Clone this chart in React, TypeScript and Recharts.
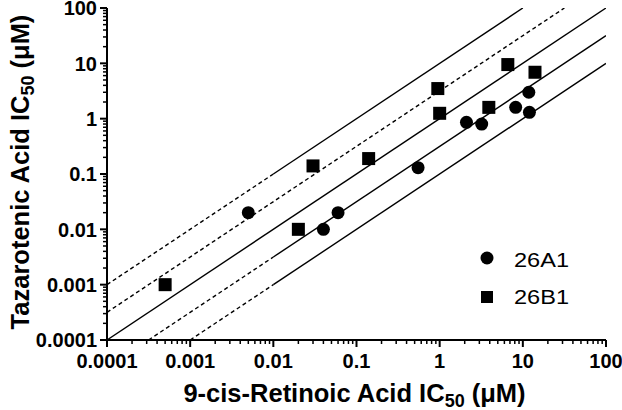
import React from 'react';
import { ScatterChart, Scatter, XAxis, YAxis, Legend } from 'recharts';

// axis ticks (log decades)
const majorTicks = [0.0001, 0.001, 0.01, 0.1, 1, 10, 100];
const tickLabels = ['0.0001', '0.001', '0.01', '0.1', '1', '10', '100'];
const minorMultipliers = [2, 3, 4, 5, 6, 7, 8, 9];

// series 26A1 (circles)
const a1X = [0.005, 0.04, 0.06, 0.55, 2.1, 3.2, 8.2, 11.8, 12];
const a1Y = [0.02, 0.01, 0.02, 0.13, 0.86, 0.8, 1.6, 3.0, 1.3];
// series 26B1 (squares)
const b1X = [0.0005, 0.02, 0.03, 0.14, 0.95, 1.0, 3.9, 6.6, 14];
const b1Y = [0.001, 0.01, 0.14, 0.19, 3.5, 1.25, 1.6, 9.5, 6.9];

// guide lines y = ratio * x ; dashed for x below dashUntil
const lineRatios = [10, 3.162, 1, 0.3162, 0.1];
const lineDashUntil = [0.01, 100, 0.0001, 0.01, 0.01];

const seriesNames = ['26A1', '26B1'];

const DOMAIN: [number, number] = [0.0001, 100];
const FONT = '"Liberation Sans", Arial, Helvetica, sans-serif';

const a1Data = a1X.map((x, i) => ({ x, y: a1Y[i] }));
const b1Data = b1X.map((x, i) => ({ x, y: b1Y[i] }));

const allTicks: number[] = [];
majorTicks.forEach((t, i) => {
  allTicks.push(t);
  if (i < majorTicks.length - 1) minorMultipliers.forEach((m) => allTicks.push(+(t * m).toPrecision(6)));
});

type Seg = { data: { x: number; y: number }[]; dashed: boolean };
const segments: Seg[] = [];
lineRatios.forEach((r, i) => {
  const x0 = Math.max(DOMAIN[0], DOMAIN[0] / r);
  const x1 = Math.min(DOMAIN[1], DOMAIN[1] / r);
  const xm = Math.max(x0, Math.min(lineDashUntil[i], x1));
  if (xm > x0 * 1.0001) segments.push({ data: [{ x: x0, y: x0 * r }, { x: xm, y: xm * r }], dashed: true });
  if (x1 > xm * 1.0001) segments.push({ data: [{ x: xm, y: xm * r }, { x: x1, y: x1 * r }], dashed: false });
});

const majorIndex = (v: number) => majorTicks.findIndex((t) => Math.abs(t - v) / t < 1e-6);

const XTick = (props: any) => {
  const { x, y, payload } = props;
  const idx = majorIndex(payload.value);
  const major = idx >= 0;
  return (
    <g>
      <line x1={x} x2={x} y1={y} y2={y + (major ? 7 : 4)} stroke="#000" strokeWidth={major ? 2 : 1.5} />
      {major && (
        <text x={x} y={y + 28} textAnchor="middle" fontFamily={FONT} fontWeight="bold" fontSize={20} fill="#000">
          {tickLabels[idx]}
        </text>
      )}
    </g>
  );
};

const YTick = (props: any) => {
  const { x, y, payload } = props;
  const idx = majorIndex(payload.value);
  const major = idx >= 0;
  return (
    <g>
      <line x1={x - (major ? 7 : 4)} x2={x} y1={y} y2={y} stroke="#000" strokeWidth={major ? 2 : 1.5} />
      {major && (
        <text x={x - 10} y={y} dy="0.36em" textAnchor="end" fontFamily={FONT} fontWeight="bold" fontSize={20} fill="#000">
          {tickLabels[idx]}
        </text>
      )}
    </g>
  );
};

const XTitle = (props: any) => {
  const { viewBox } = props;
  const cx = viewBox.x + viewBox.width / 2 - 2;
  const y = viewBox.y + 62;
  return (
    <text x={cx} y={y} textAnchor="middle" fontFamily={FONT} fontWeight="bold" fontSize={25.5} fill="#000">
      <tspan>9-cis-Retinoic Acid IC</tspan>
      <tspan fontSize={18} dy={5}>50</tspan>
      <tspan dy={-5}> (μM)</tspan>
    </text>
  );
};

const YTitle = (props: any) => {
  const { viewBox } = props;
  const x = viewBox.x + 29;
  const cy = viewBox.y + viewBox.height / 2 - 2;
  return (
    <text x={x} y={cy} transform={`rotate(-90 ${x} ${cy})`} textAnchor="middle" fontFamily={FONT} fontWeight="bold" fontSize={25.5} fill="#000">
      <tspan>Tazarotenic Acid IC</tspan>
      <tspan fontSize={18} dy={5}>50</tspan>
      <tspan dy={-5}> (μM)</tspan>
    </text>
  );
};

const Circle = (props: any) => <circle cx={props.cx} cy={props.cy} r={6.5} fill="#000" />;
const Square = (props: any) => <rect x={props.cx - 6.5} y={props.cy - 6.5} width={13} height={13} fill="#000" />;
const NoShape = () => <g />;

const LegendContent = () => (
  <svg width={120} height={70} style={{ display: 'block' }}>
    <circle cx={17} cy={13} r={6.5} fill="#000" />
    <text x={44} y={22} fontFamily={FONT} fontSize={20} fill="#000" textLength={55} lengthAdjust="spacingAndGlyphs">
      {seriesNames[0]}
    </text>
    <rect x={11} y={46} width={12} height={12} fill="#000" />
    <text x={44} y={59} fontFamily={FONT} fontSize={20} fill="#000" textLength={55} lengthAdjust="spacingAndGlyphs">
      {seriesNames[1]}
    </text>
  </svg>
);

export default function App() {
  return (
    <div style={{ position: 'absolute', left: 0, top: 0, width: 622, height: 410, background: '#fff' }}>
      <ScatterChart width={622} height={410} margin={{ top: 8, right: 16, bottom: 0, left: 0 }}>
        <XAxis
          type="number"
          dataKey="x"
          scale="log"
          domain={DOMAIN}
          allowDataOverflow
          ticks={allTicks}
          interval={0}
          height={70}
          tickSize={0}
          tickMargin={0}
          tickLine={false}
          axisLine={{ stroke: '#000', strokeWidth: 2 }}
          tick={<XTick />}
          label={<XTitle />}
        />
        <YAxis
          type="number"
          dataKey="y"
          scale="log"
          domain={DOMAIN}
          allowDataOverflow
          ticks={allTicks}
          interval={0}
          width={107}
          tickSize={0}
          tickMargin={0}
          tickLine={false}
          axisLine={{ stroke: '#000', strokeWidth: 2 }}
          tick={<YTick />}
          label={<YTitle />}
        />
        {segments.map((s, i) => (
          <Scatter
            key={'seg' + i}
            data={s.data}
            isAnimationActive={false}
            legendType="none"
            shape={<NoShape />}
            line={{ stroke: '#000', strokeWidth: 1.4, strokeDasharray: s.dashed ? '4 3' : undefined }}
          />
        ))}
        <Scatter name={seriesNames[0]} data={a1Data} isAnimationActive={false} shape={<Circle />} fill="#000" />
        <Scatter name={seriesNames[1]} data={b1Data} isAnimationActive={false} shape={<Square />} fill="#000" />
        <Legend
          layout="horizontal"
          verticalAlign="middle"
          align="center"
          content={<LegendContent />}
          wrapperStyle={{ position: 'absolute', left: 470, top: 245, width: 120, height: 70 }}
        />
      </ScatterChart>
    </div>
  );
}
